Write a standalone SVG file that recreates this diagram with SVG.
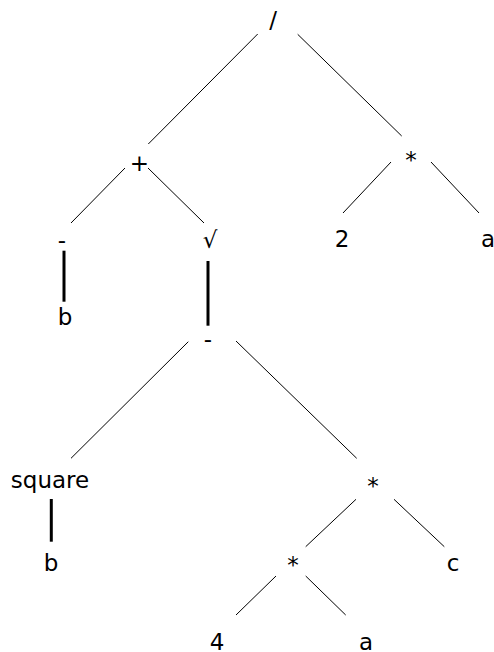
<svg xmlns="http://www.w3.org/2000/svg" width="494" height="652" viewBox="0 0 494 652">
  <style>
    .lbl { font-family: "DejaVu Sans", sans-serif; font-size: 23px; fill: #000; text-anchor: middle; }
    .edge { stroke: #000; stroke-width: 1; fill: none; }
    .edge.unary { stroke-width: 3; }
  </style>
  <rect width="494" height="652" fill="#fff"/>

  <!-- connectors -->
  <g id="connectors">
    <line class="edge" x1="257.7" y1="34" x2="148.3" y2="144"/>
    <line class="edge" x1="297.7" y1="34.3" x2="401.7" y2="136"/>
    <line class="edge" x1="125" y1="168" x2="71" y2="223"/>
    <line class="edge" x1="148" y1="168" x2="204" y2="223"/>
    <line class="edge" x1="391" y1="162" x2="343" y2="213"/>
    <line class="edge" x1="431" y1="162" x2="479" y2="213"/>
    <line class="edge unary" x1="64" y1="250.7" x2="64" y2="301.7"/>
    <line class="edge unary" x1="208" y1="261" x2="208" y2="325.7"/>
    <line class="edge" x1="188.3" y1="341.7" x2="71" y2="458.3"/>
    <line class="edge" x1="236" y1="341" x2="356.7" y2="458.3"/>
    <line class="edge unary" x1="51.3" y1="499" x2="51.3" y2="541.7"/>
    <line class="edge" x1="356" y1="499.3" x2="305.7" y2="546.7"/>
    <line class="edge" x1="394" y1="499.3" x2="444.3" y2="546.7"/>
    <line class="edge" x1="276" y1="576" x2="236" y2="615"/>
    <line class="edge" x1="305.7" y1="576" x2="345.7" y2="615"/>
  </g>

  <!-- nodes -->
  <g id="n-div"><text class="lbl" x="273" y="28">/</text></g>
  <g id="n-plus"><text class="lbl" x="139.5" y="171">+</text></g>
  <g id="n-mul-top"><text class="lbl" x="411" y="168">*</text></g>
  <g id="n-neg"><text class="lbl" x="62" y="248">-</text></g>
  <g id="n-sqrt"><text class="lbl" x="210" y="248">√</text></g>
  <g id="n-two"><text class="lbl" x="342" y="247">2</text></g>
  <g id="n-a-top"><text class="lbl" x="488" y="247">a</text></g>
  <g id="n-b-neg"><text class="lbl" x="65" y="325">b</text></g>
  <g id="n-sub"><text class="lbl" x="208" y="347">-</text></g>
  <g id="n-square"><text class="lbl" x="50" y="488">square</text></g>
  <g id="n-mul-mid"><text class="lbl" x="373" y="494">*</text></g>
  <g id="n-b-sq"><text class="lbl" x="51" y="571">b</text></g>
  <g id="n-mul-low"><text class="lbl" x="293" y="573">*</text></g>
  <g id="n-c"><text class="lbl" x="453" y="571">c</text></g>
  <g id="n-four"><text class="lbl" x="217" y="650">4</text></g>
  <g id="n-a-low"><text class="lbl" x="366" y="650">a</text></g>
</svg>
